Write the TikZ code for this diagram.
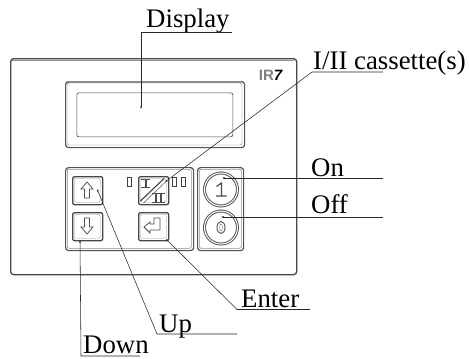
\documentclass[tikz,border=0pt]{standalone}
\usepackage{fontspec}
\setmainfont{Liberation Serif}
\newfontfamily\logofont{Liberation Sans}
\usetikzlibrary{shapes.geometric,arrows.meta}
\tikzset{
 leader/.style={draw=black!85,line width=.55pt},
 tip/.style={-{Latex[length=2.5pt,width=2pt]}},
 tag/.style={anchor=base west,inner sep=0pt,font=\fontsize{26.8}{28}\selectfont},
 panel/.style={draw=black!72,line width=1.3pt,rounded corners=3pt,inner sep=0pt,anchor=north west},
 rim/.style={draw=black!68,line width=1.2pt,rounded corners=3pt,inner sep=0pt,anchor=north west},
 thinrim/.style={draw=black!75,line width=.6pt,rounded corners=2pt,inner sep=0pt,anchor=north west},
 keycap/.style={draw=black!72,line width=1.3pt,rounded corners=2pt,inner sep=0pt,anchor=north west},
 glyph/.style={draw=black!70,line width=.75pt},
 lamp/.style={draw=black!75,line width=.7pt,inner sep=0pt,minimum width=4.5pt,minimum height=9pt,anchor=center},
 btn/.style={circle,draw=black!65,line width=1pt,inner sep=0pt,minimum size=33pt,double=white,double distance=1pt}
}
\begin{document}
\begin{tikzpicture}[x=1pt,y=-1pt]
\useasboundingbox (0,0) rectangle (469,359);
% panel
\node[panel,minimum width=286pt,minimum height=216pt] (outer) at (10,58) {};
\draw[black!45,line width=.5pt] (12,60) -- (294,60);
% display
\node[rim,minimum width=179pt,minimum height=66pt] (bezel) at (65,81) {};
\draw[black!45,line width=1.8pt] (68,81.8) -- (241,81.8);
\draw[black!50,line width=.4pt,rounded corners=2pt] (67,83) rectangle (242,145);
\node[thinrim,minimum width=156pt,minimum height=44pt] (screen) at (76.5,92.5) {};
% key groups
\node[rim,minimum width=128pt,minimum height=83pt] (keys) at (65,167) {};
\node[thinrim,draw=black!45,minimum width=124pt,minimum height=79pt] at (67,169) {};
\node[rim,minimum width=46pt,minimum height=83pt] (power) at (197,167) {};
\node[thinrim,draw=black!45,minimum width=42pt,minimum height=79pt] at (199,169) {};
% keys
\foreach \n/\x/\y in {up/72/176,down/72/212,cass/138/176,enter/138/212}{
 \node[keycap,minimum width=30pt,minimum height=28pt] (\n) at (\x,\y) {};
 \node[thinrim,draw=black!40,line width=.4pt,minimum width=26pt,minimum height=24pt] at (\x+2,\y+2) {};
}
% arrows on keys
\draw[glyph] (87,182) -- (81,189) -- (84.5,189) -- (84.5,198) -- (89.5,198) -- (89.5,189) -- (93,189) -- cycle;
\draw[glyph] (87,234) -- (81,227) -- (84.5,227) -- (84.5,218) -- (89.5,218) -- (89.5,227) -- (93,227) -- cycle;
\draw[glyph] (144,227) -- (150,222) -- (150,224) -- (154,224) -- (154,218) -- (160,218) -- (160,230) -- (150,230) -- (150,233) -- cycle;
% I/II key
\draw[glyph,line width=1.2pt] (140.5,201) -- (164,178.5);
\draw[glyph,line width=.5pt] (143.5,203) -- (166,181.5);
\draw[glyph,line width=1pt] (141,179) -- (150,179) (141,187) -- (150,187);
\draw[glyph,line width=2pt] (145.5,179) -- (145.5,187);
\draw[glyph,line width=1pt] (152,193.5) -- (165,193.5) (152,202) -- (165,202);
\draw[glyph,line width=1.6pt] (156,193.5) -- (156,202) (161,193.5) -- (161,202);
% lamps
\node[lamp] (l1) at (129.5,181.5) {};
\node[lamp] (l2) at (174.5,182) {};
\node[lamp] (l3) at (183.5,182) {};
% power buttons
\node[btn] (on) at (221,189.5) {};
\node[btn] (off) at (221,227.5) {};
\draw[glyph,line width=1.2pt] (216.5,186.5) -- (221.5,183) -- (221.5,195.5) (216,196) -- (226.5,196);
\node[draw=black!70,line width=.9pt,ellipse,inner sep=0pt,minimum width=8pt,minimum height=12pt] (zero) at (221,227.5) {};
\node[ellipse,draw=black!50,line width=.4pt,inner sep=0pt,minimum width=3pt,minimum height=7pt] (zeroin) at (221,227.5) {};
% logo
\node[inner sep=0pt,font=\logofont\fontsize{15}{15}\bfseries\selectfont,text=black!50] (logo) at (270.5,75) {IR\textcolor{black}{\itshape 7}};
% labels
\node[tag] (tdisp) at (146,27) {Display};
\node[tag] (tcass) at (313,69) {I/II cassette(s)};
\node[tag] (ton) at (311,176) {On};
\node[tag] (toff) at (311,213) {Off};
\node[tag] (tenter) at (241,307) {Enter};
\node[tag] (tup) at (159,332) {Up};
\node[tag] (tdown) at (83,353) {Down};
% leaders
\coordinate (c1) at (232,32); \coordinate (c2) at (141,32); \coordinate (c3) at (141,109);
\draw[leader,tip] (c1) -- (c2) -- (c3);
\coordinate (d1) at (383,72); \coordinate (d2) at (312,72); \coordinate (d3) at (165,182);
\draw[leader,tip] (d1) -- (d2) -- (d3);
\coordinate (e1) at (383,178); \coordinate (e2) at (222,178);
\draw[leader,tip] (e1) -- (e2);
\coordinate (f1) at (383,217); \coordinate (f2) at (221,217);
\draw[leader,tip] (f1) -- (f2);
\coordinate (g1) at (310,309.5); \coordinate (g2) at (237,309.5); \coordinate (g3) at (166,239);
\draw[leader,tip] (g1) -- (g2) -- (g3);
\coordinate (h1) at (237,334); \coordinate (h2) at (157,334); \coordinate (h3) at (97,189);
\draw[leader,tip] (h1) -- (h2) -- (h3);
\coordinate (i1) at (140,356); \coordinate (i2) at (81,356); \coordinate (i3) at (80,240);
\draw[leader,tip] (i1) -- (i2) -- (i3);
\end{tikzpicture}
\end{document}
